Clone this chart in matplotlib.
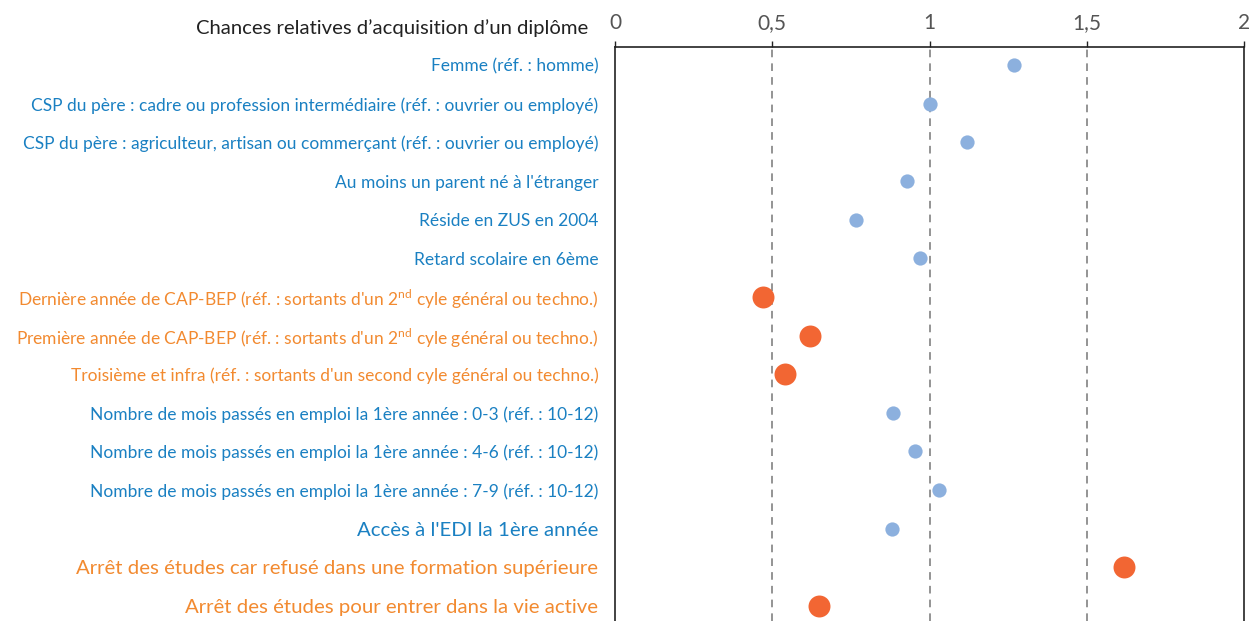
import matplotlib.pyplot as plt
import matplotlib.ticker as mticker

plt.rcParams['font.family'] = ['Lato', 'DejaVu Sans']
plt.rcParams['mathtext.fontset'] = 'custom'
plt.rcParams['mathtext.rm'] = 'Lato'

# Data
labels = [
    "Femme (réf. : homme)",
    "CSP du père : cadre ou profession intermédiaire (réf. : ouvrier ou employé)",
    "CSP du père : agriculteur, artisan ou commerçant (réf. : ouvrier ou employé)",
    "Au moins un parent né à l'étranger",
    "Réside en ZUS en 2004",
    "Retard scolaire en 6ème",
    "Dernière année de CAP-BEP (réf. : sortants d'un 2$^{\\mathrm{nd}}$ cyle général ou techno.)",
    "Première année de CAP-BEP (réf. : sortants d'un 2$^{\\mathrm{nd}}$ cyle général ou techno.)",
    "Troisième et infra (réf. : sortants d'un second cyle général ou techno.)",
    "Nombre de mois passés en emploi la 1ère année : 0-3 (réf. : 10-12)",
    "Nombre de mois passés en emploi la 1ère année : 4-6 (réf. : 10-12)",
    "Nombre de mois passés en emploi la 1ère année : 7-9 (réf. : 10-12)",
    "Accès à l'EDI la 1ère année",
    "Arrêt des études car refusé dans une formation supérieure",
    "Arrêt des études pour entrer dans la vie active",
]
values = [1.27, 1.0, 1.12, 0.93, 0.765, 0.97, 0.47, 0.62, 0.54,
          0.885, 0.955, 1.03, 0.88, 1.62, 0.65]
highlight = [False, False, False, False, False, False, True, True, True,
             False, False, False, False, True, True]
big_label = [False] * 12 + [True] * 3

blue_txt = '#1a80c2'
orange_txt = '#f28a30'
blue_dot = '#8cb0de'
orange_dot = '#f26633'

fig = plt.figure(figsize=(12.54, 6.21), dpi=100)
ax = fig.add_axes([615 / 1254, 0.0, (1244 - 615) / 1254, 1 - 47 / 621])

for i, (v, h) in enumerate(zip(values, highlight)):
    if h:
        ax.scatter(v, i, s=250, color=orange_dot, zorder=3, linewidths=0)
    else:
        ax.scatter(v, i, s=105, color=blue_dot, zorder=3, linewidths=0)

for x in [0.5, 1, 1.5]:
    ax.axvline(x, color='#777777', linestyle=(0, (5, 4)), linewidth=1.1, zorder=1)

ax.set_xlim(0, 2)
ax.set_ylim(14.39, -0.47)
ax.xaxis.tick_top()
ax.set_xticks([0, 0.5, 1, 1.5, 2])
ax.xaxis.set_major_formatter(mticker.FuncFormatter(
    lambda v, p: ('%g' % v).replace('.', ',')))
ax.tick_params(axis='x', length=4, width=1, pad=6, labelsize=15,
               labelcolor='#555555', color='#222222')
ax.set_yticks(range(len(labels)))
ax.set_yticklabels(labels)
ax.tick_params(axis='y', length=0, pad=12)
for t, h, b in zip(ax.get_yticklabels(), highlight, big_label):
    t.set_color(orange_txt if h else blue_txt)
    t.set_fontsize(14.7 if b else 12.5)

for s in ['left', 'top', 'right']:
    ax.spines[s].set_color('#222222')
    ax.spines[s].set_linewidth(1.2)
ax.spines['bottom'].set_visible(False)

fig.text(588 / 1254, 1 - 28 / 621, "Chances relatives d’acquisition d’un diplôme",
         ha='right', va='center', fontsize=14.6, color='#222222')

fig.savefig('out.png', dpi=100)
